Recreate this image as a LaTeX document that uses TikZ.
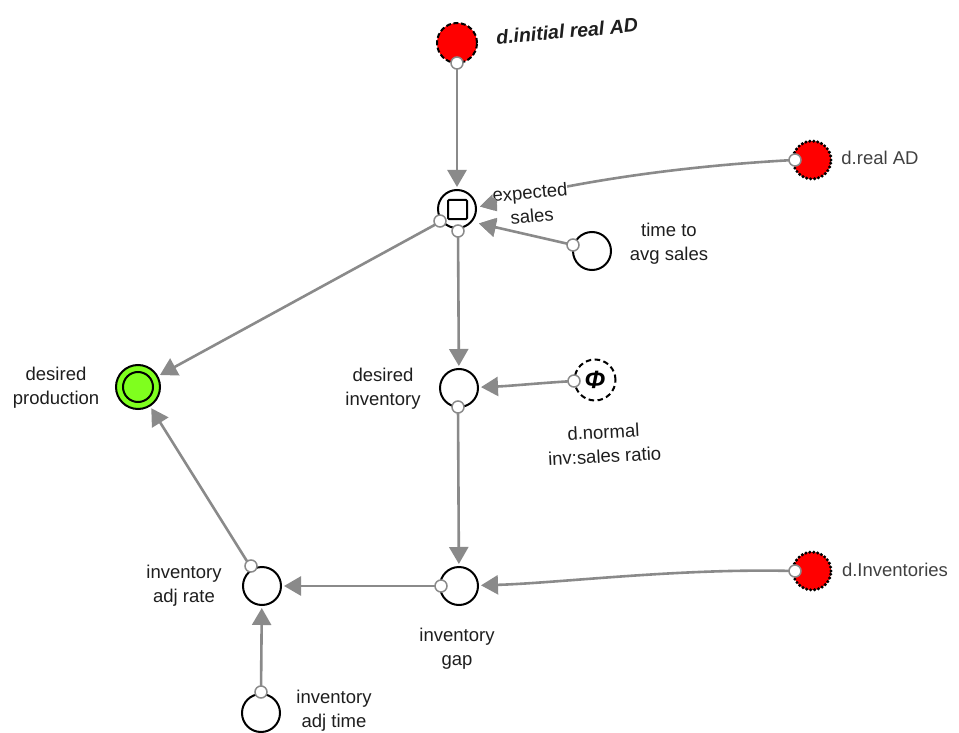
\documentclass[tikz,border=0pt]{standalone}
\usepackage{fontspec}
\setmainfont{Liberation Sans}
\usetikzlibrary{arrows.meta}
\definecolor{linkgray}{HTML}{8A8A8A}
\definecolor{txt}{HTML}{1E1E1E}
\definecolor{flagred}{HTML}{FF0000}
\definecolor{okgreen}{HTML}{7FFF1E}
\begin{document}
\begin{tikzpicture}[x=1pt,y=-1pt,
  var/.style={circle,draw=black,line width=2pt,fill=white,minimum size=38pt,inner sep=0pt},
  extvar/.style={circle,draw=black,fill=flagred,minimum size=38pt,inner sep=0pt},
  dashedge/.style={line width=2pt,dash pattern=on 5pt off 2.5pt},
  dotedge/.style={line width=3.4pt,line cap=round,dash pattern=on 0pt off 4pt},
  port/.style={circle,draw=linkgray,line width=1.5pt,fill=white,minimum size=12pt,inner sep=0pt},
  link/.style={draw=linkgray,line width=2.6pt,shorten >=2pt,
    -{Triangle[length=17pt,width=19pt,fill=linkgray]}},
  lbl/.style={text=txt,align=center,font=\fontsize{18.5}{24}\selectfont,inner sep=1pt},
]
\useasboundingbox (0,0) rectangle (959,733);

% variables
\node[extvar,dashedge,minimum size=40pt] (ini) at (457,43) {};
\node[var] (exp) at (457,209) {};
\draw[line width=2pt,rounded corners=1pt] (448,200) rectangle (467,219);
\node[var] (avg) at (592,251) {};
\node[extvar,dotedge] (rad) at (812,160) {};
\node[circle,draw=black,line width=2pt,fill=okgreen,minimum size=44pt,inner sep=0pt] (prod) at (138,387) {};
\draw[line width=2pt] (prod) circle (15pt);
\node[var] (dinv) at (459,388) {};
\node[circle,draw=black,line width=2pt,dash pattern=on 5.5pt off 3.5pt,fill=white,minimum size=41pt,inner sep=0pt,
      font=\fontsize{25}{25}\selectfont\bfseries\itshape] (phi) at (595,380) {Φ};
\node[var] (gap) at (459,586) {};
\node[extvar,dotedge] (inv) at (812,571) {};
\node[var] (rate) at (262,586) {};
\node[var] (adjt) at (261,713) {};

% connectors
\tikzset{
  salesin/.style={insert path={
    (794,160) .. controls (700,165) and (590,178) .. (478,207)}},
  avgin/.style={insert path={(573,245) -- (477,223)}}
}
\draw[link,salesin];
\draw[link,avgin];
\draw[link] (457,63) -- (exp);
\draw[link] (440,222) -- (prod);
\draw[link] (458,231) -- (dinv);
\draw[link] (574,381) .. controls (540,383) and (510,386) .. (dinv);
\draw[link] (458,407) -- (gap);
\draw[link] (794,571) .. controls (680,568) and (560,583) .. (gap);
\draw[link] (440,586) -- (rate);
\draw[link] (250,566) -- (prod);
\draw[link] (261,692) -- (rate);

% ports
\node[port] (inip) at (457,63) {};
\node[port] (expl) at (440,221) {};
\node[port] (expb) at (458,231) {};
\node[port] (avgp) at (573,245) {};
\node[port] (radp) at (795,160) {};
\node[port] (dinvp) at (458,407) {};
\node[port] (phip) at (574,381) {};
\node[port] (gapp) at (441,586) {};
\node[port] (invp) at (795,571) {};
\node[port] (ratep) at (251,566) {};
\node[port] (adjtp) at (261,692) {};

% labels
\node[lbl,font=\fontsize{19.5}{22}\selectfont\bfseries\itshape,rotate=5] (inil) at (567,31) {d.initial real AD};
\node[lbl,fill=white,rotate=5,inner sep=0pt] (expl2) at (531,204) {expected\\sales};
% arrow tips into expected sales stay on top of its label
\begin{scope}
  \clip (468,199) rectangle (497,236);
  \draw[link,salesin];
  \draw[link,avgin];
\end{scope}
\node[lbl] (avgl) at (669,244) {time to\\avg sales};
\node[lbl,text=txt!85] (radl) at (880,158) {d.real AD};
\node[lbl] (prodl) at (56,388) {desired\\production};
\node[lbl] (dinvl) at (383,389) {desired\\inventory};
\node[lbl,rotate=3] (phil) at (604,444) {d.normal\\inv:sales ratio};
\node[lbl] (gapl) at (457,649) {inventory\\gap};
\node[lbl,text=txt!85] (invl) at (895,570) {d.Inventories};
\node[lbl] (ratel) at (184,586) {inventory\\adj rate};
\node[lbl] (adjtl) at (334,711) {inventory\\adj time};
\end{tikzpicture}
\end{document}
